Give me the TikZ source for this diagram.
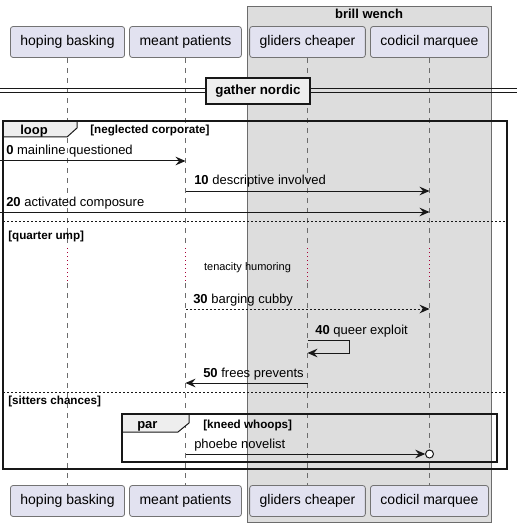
\documentclass[tikz,border=0pt]{standalone}
\usepackage{fontspec}
\setmainfont{Liberation Sans}
\usetikzlibrary{arrows.meta}
\definecolor{partfill}{HTML}{E2E2F0}
\definecolor{boxfill}{HTML}{DDDDDD}
\definecolor{tabfill}{HTML}{EEEEEE}
\definecolor{ink}{HTML}{181818}
\definecolor{delayred}{HTML}{A80036}
\begin{document}
\begin{tikzpicture}[x=0.75pt,y=-0.75pt]
\tikzstyle{part}= [rectangle,draw=gray!90!black,line width=0.6pt,fill=partfill,rounded corners=2pt,minimum height=23.25pt,inner xsep=7.5pt,font=\fontsize{10.5pt}{12pt}\selectfont]
\tikzstyle{life}= [draw=gray!85!black,line width=0.6pt,dash pattern=on 3.75pt off 3.75pt]
\tikzstyle{delay}= [draw=delayred,line width=0.75pt,dash pattern=on 0.75pt off 2.25pt]
\tikzstyle{msg}= [draw=ink,line width=0.75pt,-{Stealth[length=7.5pt,width=6.5pt,inset=2.6pt]}]
\tikzstyle{lbl}= [anchor=base west,inner sep=0pt,font=\fontsize{9.75pt}{11pt}\selectfont]
\tikzstyle{frame}= [draw=ink,line width=1.4pt]
\tikzstyle{cond}= [anchor=base west,inner sep=0pt,font=\fontsize{8.75pt}{10pt}\selectfont\bfseries]
\useasboundingbox (0,0) rectangle (522,527);

% box round the last two participants
\filldraw[fill=boxfill,draw=gray!85!black,line width=0.6pt] (247,6) rectangle (491,522);
\node[anchor=base,inner sep=0pt,font=\fontsize{9.75pt}{11pt}\selectfont\bfseries] (bw) at (369,19) {brill wench};

\path
	( 67.5, 42) node[part] (hbT) {hoping basking}
	(185.5, 42) node[part] (mpT) {meant patients}
	(307.5, 42) node[part] (gcT) {gliders cheaper}
	(429.5, 42) node[part] (cmT) {codicil marquee}
	( 67.5,501) node[part] (hbB) {hoping basking}
	(185.5,501) node[part] (mpB) {meant patients}
	(307.5,501) node[part] (gcB) {gliders cheaper}
	(429.5,501) node[part] (cmB) {codicil marquee}
;
\foreach \p in {hb,mp,gc,cm} {
	\draw[life] (\p T.south) -- (\p T.south |- 0,248);
	\draw[delay] (\p T.south |- 0,248) -- (\p T.south |- 0,283);
	\draw[life] (\p T.south |- 0,283) -- (\p B.north);
}

% divider
\draw[ink,line width=0.75pt] (0,89) -- (517,89) (0,93) -- (517,93);
\node[draw=ink,line width=1.4pt,fill=tabfill,minimum width=78pt,minimum height=19.5pt,inner sep=0pt,font=\fontsize{10pt}{11pt}\selectfont\bfseries] (gn) at (258,91) {gather nordic};

% loop frame
\filldraw[frame,fill=tabfill,line width=0.75pt] (3,121) -- (77,121) -- (77,128) -- (67,137) -- (3,137) -- cycle;
\draw[frame] (3,121) rectangle (507,469);
\node[anchor=base west,inner sep=0pt,font=\fontsize{9.75pt}{11pt}\selectfont\bfseries] (lp) at (20,135) {loop};
\node[cond] (lc) at (90,134) {[neglected corporate]};
\draw[ink,line width=0.6pt,dash pattern=on 1.5pt off 1.5pt] (3,221) -- (507,221);
\node[cond] (qu) at (8,239) {[quarter ump]};
\draw[ink,line width=0.6pt,dash pattern=on 1.5pt off 1.5pt] (3,392) -- (507,392);
\node[cond] (sc) at (8,404) {[sitters chances]};

% par frame
\filldraw[frame,fill=tabfill,line width=0.75pt] (122,414) -- (189,414) -- (189,423) -- (178,432) -- (122,432) -- cycle;
\draw[frame] (122,414) rectangle (497,462);
\node[anchor=base west,inner sep=0pt,font=\fontsize{9.75pt}{11pt}\selectfont\bfseries] (pr) at (137,428) {par};
\node[cond] (pc) at (203,428) {[kneed whoops]};

% messages
\coordinate (in0) at (0,161);
\coordinate (in20) at (0,212);
\draw[msg] (in0) -- (mpT |- in0);
\node[lbl] at (6,155) {\textbf{0} mainline questioned};
\draw[msg] (mpT |- 0,191) -- (cmT |- 0,191);
\node[lbl] at (194,185) {\textbf{10} descriptive involved};
\draw[msg] (in20) -- (cmT |- in20);
\node[lbl] at (6,206) {\textbf{20} activated composure};
\node[anchor=base,inner sep=0pt,font=\fontsize{8.25pt}{10pt}\selectfont] (th) at (247.5,270.5) {tenacity humoring};
\draw[msg,dash pattern=on 1.5pt off 1.5pt] (mpT |- 0,309) -- (cmT |- 0,309);
\node[lbl] at (193,303) {\textbf{30} barging cubby};
\draw[msg] (gcT |- 0,340) -- (349,340) -- (349,353) -- (gcT |- 0,353);
\node[lbl] at (315,334) {\textbf{40} queer exploit};
\draw[msg] (gcT |- 0,383) -- (mpT |- 0,383);
\node[lbl] at (203,377) {\textbf{50} frees prevents};
\draw[msg,shorten >=3.2pt] (mpT |- 0,454) -- (cmT |- 0,454);
\filldraw[fill=white,draw=ink,line width=0.75pt] (cmT |- 0,454) circle[radius=3pt];
\node[lbl] at (194,448) {phoebe novelist};
\end{tikzpicture}
\end{document}
